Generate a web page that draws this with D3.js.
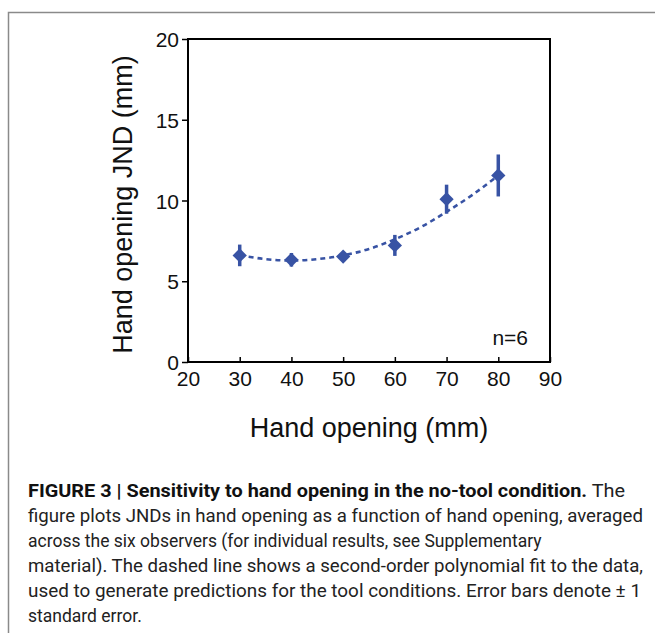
<!DOCTYPE html>
<html>
<head>
<meta charset="utf-8">
<script src="https://cdn.jsdelivr.net/npm/d3@7"></script>
<style>
  body { margin: 0; background: #fff; }
  svg text { font-family: "Liberation Sans", Arial, sans-serif; }
</style>
</head>
<body>
<div id="chart"></div>
<script>
// Size of page
let width = 655;
let height = 633;

// Data
let openings = [30, 40, 50, 60, 70, 80];
let jnds = [6.6, 6.33, 6.53, 7.22, 10.08, 11.55];
let errors = [0.67, 0.42, 0.15, 0.65, 0.9, 1.3];

// Second-order fit, points
let fitX = [30, 35, 40, 45, 50, 55, 60, 65, 70, 75, 80];
let fitY = [6.62, 6.37, 6.28, 6.37, 6.6, 7.0, 7.6, 8.35, 9.3, 10.35, 11.55];

let xTicks = [20, 30, 40, 50, 60, 70, 80, 90];
let yTicks = [0, 5, 10, 15, 20];

// justify: widen the word gaps so the line ends at 'end'
let caption = [
  {bold: "FIGURE 3 | Sensitivity to hand opening in the no-tool condition.", rest: " The", end: 625, justify: true},
  {bold: "", rest: "figure plots JNDs in hand opening as a function of hand opening, averaged", end: 643, justify: true},
  {bold: "", rest: "across the six observers (for individual results, see Supplementary", end: 505, justify: false},
  {bold: "", rest: "material). The dashed line shows a second-order polynomial fit to the data,", end: 643, justify: true},
  {bold: "", rest: "used to generate predictions for the tool conditions. Error bars denote \u00b1 1", end: 641, justify: true},
  {bold: "", rest: "standard error.", end: 144, justify: false}
];

let blue = '#3853a4';

// Plot box
let plotLeft = 188, plotRight = 550, plotTop = 39, plotBottom = 362;

let x = d3.scaleLinear().domain([20, 90]).range([plotLeft, plotRight]);
let y = d3.scaleLinear().domain([0, 20]).range([plotBottom, plotTop]);

let svg = d3.select('#chart')
.append('svg')
.attr('width', width)
.attr('height', height);

// Outer figure frame (left and top only, the rest is cut off)
svg.append('path')
.attr('d', 'M8.5,' + height + 'V12.5H' + width)
.attr('fill', 'none')
.attr('stroke', '#8a8a8a')
.attr('stroke-width', 1.5);

// Axes
let xAxis = d3.axisBottom(x).tickValues(xTicks).tickSizeInner(-5).tickSizeOuter(0).tickPadding(9);
let yAxis = d3.axisLeft(y).tickValues(yTicks).tickSizeInner(6).tickSizeOuter(0).tickPadding(3);

let gx = svg.append('g')
.attr('transform', 'translate(0,' + plotBottom + ')')
.call(xAxis);

let gy = svg.append('g')
.attr('transform', 'translate(' + plotLeft + ',0)')
.call(yAxis);

[gx, gy].forEach(function(g){
    g.select('.domain').remove();
    g.selectAll('.tick line').attr('stroke', '#000').attr('stroke-width', 1.5);
    g.selectAll('.tick text')
    .attr('fill', '#111')
    .style('font-size', '21px');
});
gx.selectAll('.tick text').attr('dy', '0.71em');
gy.selectAll('.tick text').attr('dy', '0.36em');

// Frame round the plot
svg.append('rect')
.attr('x', plotLeft)
.attr('y', plotTop)
.attr('width', plotRight - plotLeft)
.attr('height', plotBottom - plotTop)
.attr('fill', 'none')
.attr('stroke', '#000')
.attr('stroke-width', 2);

// Fit line
let line = d3.line()
.x(function(d, i){ return x(fitX[i]); })
.y(function(d){ return y(d); })
.curve(d3.curveMonotoneX);

svg.append('path')
.datum(fitY)
.attr('d', line)
.attr('fill', 'none')
.attr('stroke', blue)
.attr('stroke-width', 2.6)
.attr('stroke-dasharray', '5,4');

// Error bars
svg.append('g')
.selectAll('line')
.data(openings)
.enter()
.append('line')
.attr('x1', function(d){ return x(d); })
.attr('x2', function(d){ return x(d); })
.attr('y1', function(d, i){ return y(jnds[i] - errors[i]); })
.attr('y2', function(d, i){ return y(jnds[i] + errors[i]); })
.attr('stroke', blue)
.attr('stroke-width', 3.5);

// Diamonds
let diamond = d3.symbol().type(d3.symbolDiamond2).size(130);
svg.append('g')
.selectAll('path')
.data(openings)
.enter()
.append('path')
.attr('d', diamond)
.attr('transform', function(d, i){ return 'translate(' + x(d) + ',' + y(jnds[i]) + ')'; })
.attr('fill', blue);

// n label
svg.append('text')
.attr('x', 528)
.attr('y', 345)
.attr('text-anchor', 'end')
.style('font-size', '21px')
.attr('fill', '#111')
.text('n=6');

// Axis titles
svg.append('text')
.attr('x', (plotLeft + plotRight) / 2)
.attr('y', 437)
.attr('text-anchor', 'middle')
.style('font-size', '27px')
.attr('fill', '#111')
.text('Hand opening (mm)');

svg.append('text')
.attr('transform', 'translate(132,' + ((plotTop + plotBottom) / 2 + 4) + ') rotate(-90)')
.attr('text-anchor', 'middle')
.style('font-size', '27px')
.attr('fill', '#111')
.text('Hand opening JND (mm)');

// Caption: squeeze the block so the tightest full line just fits,
// then justify the other full lines (small gaps by word spacing,
// larger ones by stretching the whole line a little)
let capLeft = 28;
let capOuter = svg.append('g').attr('transform', 'translate(' + capLeft + ',0)');
let cap = capOuter.append('g');
let capTexts = [];
caption.forEach(function(c, i){
    let t = cap.append('text')
    .attr('x', 0)
    .attr('y', 496.5 + i * 25)
    .style('font-size', '17.5px')
    .style('font-family', 'Roboto, sans-serif')
    .attr('fill', '#222');
    if (c.bold) {
        t.append('tspan').attr('font-weight', 'bold').attr('fill', '#111').text(c.bold);
    }
    t.append('tspan').text(c.rest);
    capTexts.push(t);
});

let k = 1;
capTexts.forEach(function(t, i){
    let c = caption[i];
    if (!c.justify) return;
    k = Math.min(k, (c.end - capLeft) / t.node().getComputedTextLength());
});
cap.attr('transform', 'scale(' + k + ',1)');

capTexts.forEach(function(t, i){
    let c = caption[i];
    if (!c.justify) return;
    let target = (c.end - capLeft) / k;
    let natural = t.node().getComputedTextLength();
    let gaps = (c.bold + c.rest).split(' ').length - 1;
    let extra = (target - natural) / gaps;
    if (extra <= 1.5) {
        t.style('word-spacing', extra + 'px');
    } else {
        t.attr('textLength', target).attr('lengthAdjust', 'spacingAndGlyphs');
    }
});
</script>
</body>
</html>
